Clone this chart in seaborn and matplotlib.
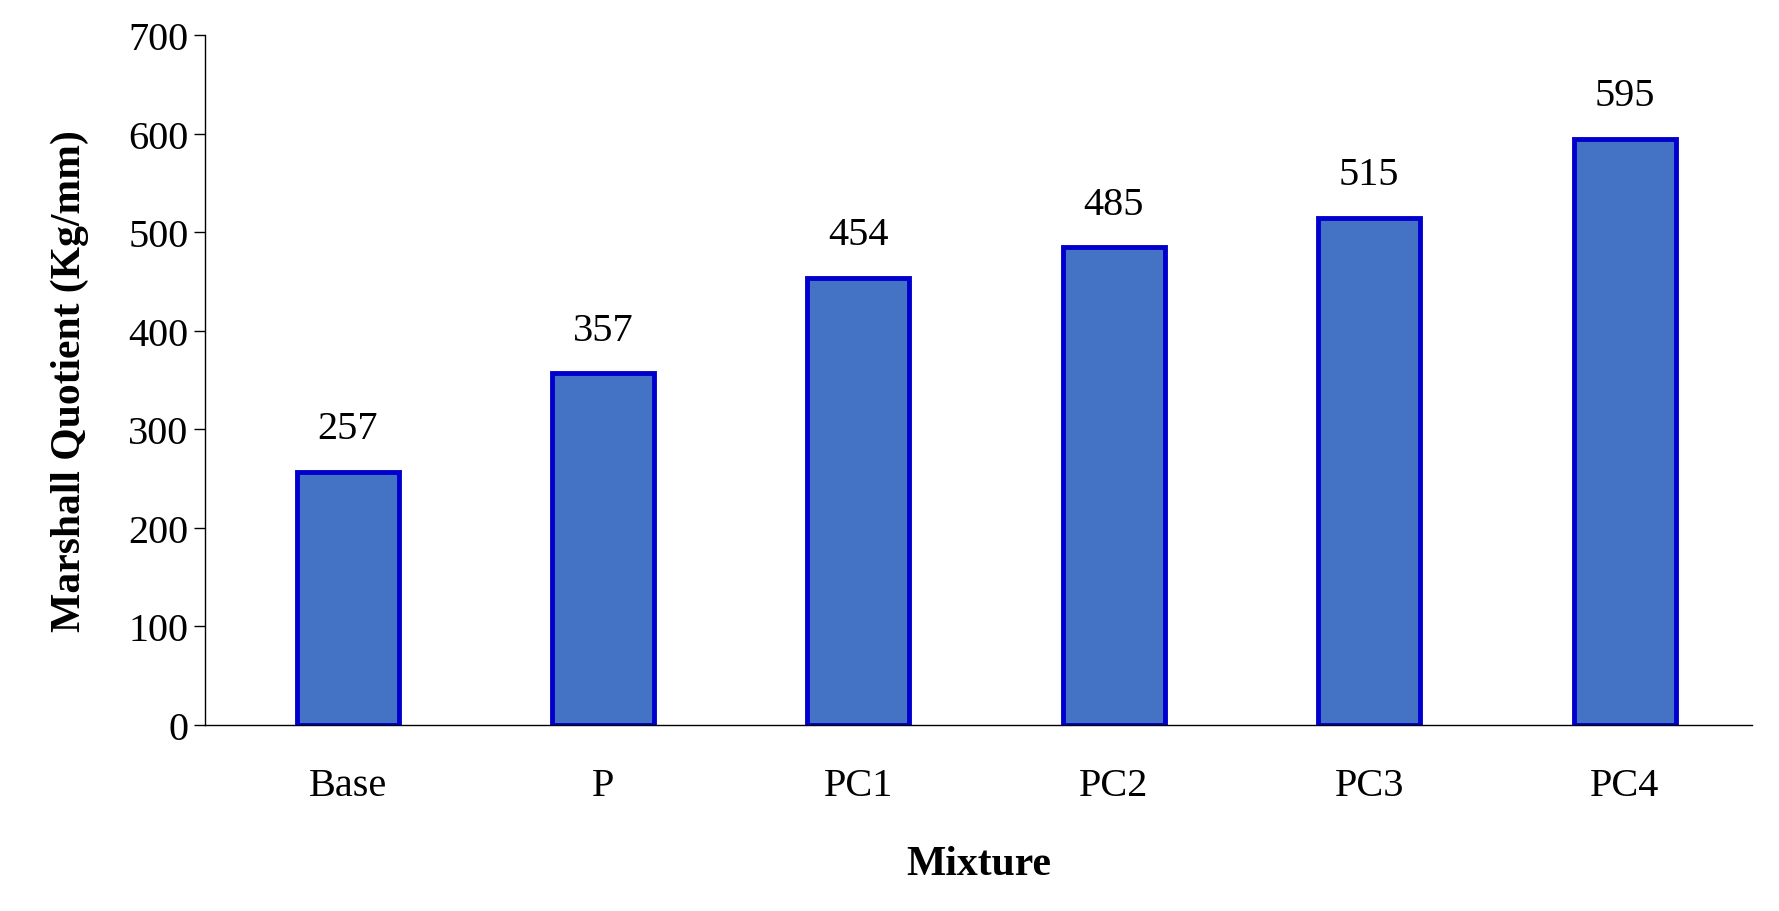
import matplotlib
matplotlib.use("Agg")
import matplotlib.pyplot as plt
import seaborn as sns
import pandas as pd

categories = ["Base", "P", "PC1", "PC2", "PC3", "PC4"]
values = [257, 357, 454, 485, 515, 595]

sns.set_theme(style="white")
plt.rcParams['font.family'] = ['Liberation Serif', 'DejaVu Serif']
plt.rcParams['text.color'] = 'black'
plt.rcParams['axes.labelcolor'] = 'black'
plt.rcParams['xtick.color'] = 'black'
plt.rcParams['ytick.color'] = 'black'

df = pd.DataFrame({"Mixture": categories, "MQ": values})
fig = plt.figure(figsize=(17.79, 9.12), dpi=100)
ax = fig.add_axes([0.115, 0.204, 0.87, 0.756])
sns.barplot(data=df, x="Mixture", y="MQ", ax=ax, color="#4472C4", width=0.4,
            edgecolor="#0000CC", linewidth=3.5, saturation=1)
for i, v in enumerate(values):
    ax.text(i, v + 25, str(v), ha="center", va="bottom", fontsize=29)
ax.set_ylim(0, 700)
ax.set_yticks(range(0, 701, 100))
ax.set_xlim(-0.56, 5.5)
ax.tick_params(axis="y", labelsize=29, length=8, width=1, direction="out", left=True)
ax.tick_params(axis="x", labelsize=29, length=0, pad=30)
ax.set_xlabel("Mixture", fontsize=30, fontweight="bold", labelpad=30)
ax.set_ylabel("Marshall Quotient (Kg/mm)", fontsize=30, fontweight="bold", labelpad=28)
for s in ["top", "right"]:
    ax.spines[s].set_visible(False)
for s in ["left", "bottom"]:
    ax.spines[s].set_color("black")
    ax.spines[s].set_linewidth(1)
fig.savefig("out.png", dpi=100)
